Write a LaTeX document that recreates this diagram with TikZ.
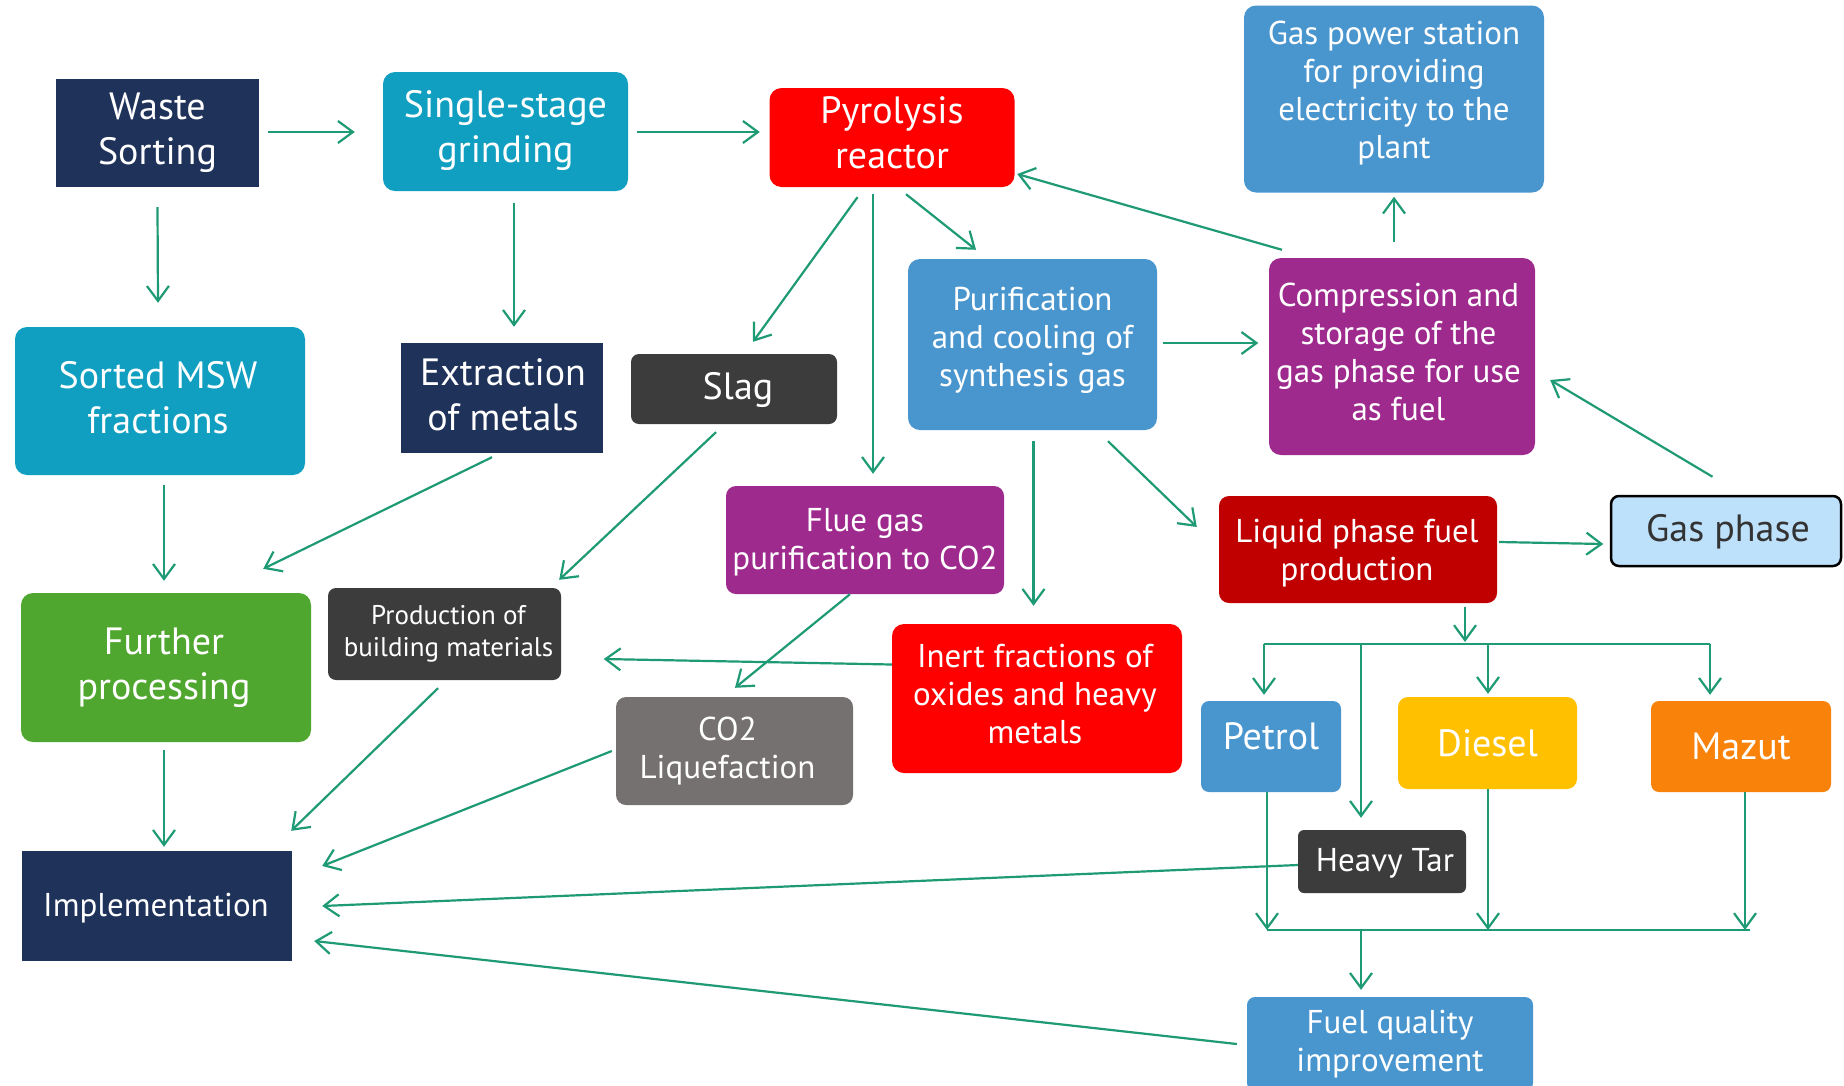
\documentclass[tikz,border=0pt]{standalone}
\usepackage{fontspec}
\setmainfont{PT Sans}
\usetikzlibrary{arrows.meta,calc}
\definecolor{cnavy}{HTML}{1F3259}
\definecolor{cteal}{HTML}{109FC0}
\definecolor{cred}{HTML}{FF0000}
\definecolor{cblue}{HTML}{4995CE}
\definecolor{cpurple}{HTML}{9E2A8E}
\definecolor{cdred}{HTML}{C00000}
\definecolor{cgreenbox}{HTML}{50A72F}
\definecolor{cdgray}{HTML}{3C3C3C}
\definecolor{cgray}{HTML}{757170}
\definecolor{cyellow}{HTML}{FFC000}
\definecolor{corange}{HTML}{F9830A}
\definecolor{clblue}{HTML}{BDE0FB}
\definecolor{cline}{HTML}{1E9A74}
\definecolor{ctext}{HTML}{333333}
\newlength{\liftamt}
\newlength{\nudgeamt}
\newcommand{\myline}[1]{\raisebox{\liftamt}[\height][\depth]{\kern\nudgeamt\relax #1\kern-\nudgeamt\relax}}
\begin{document}
\begin{tikzpicture}[x=1pt,y=-1pt,
  box/.style={rounded corners=12pt, text=white, align=center, inner sep=0pt, anchor=center},
  sqbox/.style={box, rounded corners=0pt},
  tpos/.style 2 args={execute at begin node={\setlength{\liftamt}{#1}\setlength{\nudgeamt}{#2}}},
  conn/.style={draw=cline, line width=2.2pt, -{Straight Barb[length=15pt,width=22pt,line width=2.2pt]}},
  busline/.style={draw=cline, line width=2.2pt},
  fA/.style={font=\fontsize{38}{45}\selectfont},
  fB/.style={font=\fontsize{33}{38}\selectfont},
  fC/.style={font=\fontsize{27}{32}\selectfont},
]
\useasboundingbox (0,0) rectangle (1844,1085);
\clip (0,0) rectangle (1844,1085);
\fill[white] (0,0) rectangle (1844,1085);

% nodes
\node[sqbox, fill=cnavy, minimum width=203pt, minimum height=108pt, fA] (ws) at (157.5,133) {\myline{Waste}\\\myline{Sorting}};
\node[box, fill=cteal, minimum width=245pt, minimum height=119pt, fA, tpos={1pt}{0pt}] (sg) at (505.5,131.5) {\myline{Single-stage}\\\myline{grinding}};
\node[box, fill=cred, minimum width=245pt, minimum height=99pt, fA, tpos={5pt}{0pt}] (pr) at (892,137.5) {\myline{Pyrolysis}\\\myline{reactor}};
\node[box, fill=cblue, minimum width=300pt, minimum height=187pt, fB, tpos={6pt}{0pt}] (gp) at (1394,99) {\myline{Gas power station}\\\myline{for providing}\\\myline{electricity to the}\\\myline{plant}};
\node[box, fill=cteal, minimum width=290pt, minimum height=148pt, fA, tpos={3.5pt}{-2pt}] (smsw) at (160,401) {\myline{Sorted MSW}\\\myline{fractions}};
\node[sqbox, fill=cnavy, minimum width=202pt, minimum height=110pt, fA, tpos={3.5pt}{1pt}] (ex) at (502,398) {\myline{Extraction}\\\myline{of metals}};
\node[box, fill=cdgray, rounded corners=8pt, minimum width=206pt, minimum height=70pt, fA, tpos={-1pt}{4pt}] (slag) at (734,389) {\myline{Slag}};
\node[box, fill=cblue, minimum width=249pt, minimum height=171pt, fB, tpos={4pt}{0pt}] (pc) at (1032.5,344.5) {\myline{Purification}\\\myline{and cooling of}\\\myline{synthesis gas}};
\node[box, fill=cpurple, minimum width=266pt, minimum height=197pt, fB, tpos={4.5pt}{-3.5pt}] (cs) at (1402,356.5) {\myline{Compression and}\\\myline{storage of the}\\\myline{gas phase for use}\\\myline{as fuel}};
\node[box, fill=clblue, draw=black, line width=2.5pt, rounded corners=8pt, text=ctext, minimum width=230pt, minimum height=70pt, fA, tpos={-1pt}{2pt}] (gph) at (1726,531) {\myline{Gas phase}};
\node[box, fill=cdred, rounded corners=10pt, minimum width=278pt, minimum height=107pt, fB, tpos={-3.5pt}{-1pt}] (lq) at (1358,549.5) {\myline{Liquid phase fuel}\\\myline{production}};
\node[box, fill=cpurple, rounded corners=10pt, minimum width=278pt, minimum height=108pt, fB, tpos={-2.5pt}{0pt}] (fg) at (865,540) {\myline{Flue gas}\\\myline{purification to CO2}};
\node[box, fill=cgreenbox, minimum width=290pt, minimum height=149pt, fA, tpos={0pt}{-2pt}] (fp) at (166,667.5) {\myline{Further}\\\myline{processing}};
\node[box, fill=cdgray, rounded corners=8pt, minimum width=233pt, minimum height=92pt, fC, tpos={0pt}{4pt}] (pb) at (444.5,634) {\myline{Production of}\\\myline{building materials}};
\node[box, fill=cred, minimum width=290pt, minimum height=149pt, fB, tpos={4pt}{-2pt}] (inert) at (1037,698.5) {\myline{Inert fractions of}\\\myline{oxides and heavy}\\\myline{metals}};
\node[box, fill=cgray, rounded corners=10pt, minimum width=237pt, minimum height=108pt, fB, tpos={0pt}{-7pt}] (co2) at (734.5,751) {\myline{CO2}\\\myline{Liquefaction}};
\node[box, fill=cblue, rounded corners=8pt, minimum width=140pt, minimum height=91pt, fA, tpos={10pt}{0pt}] (petrol) at (1271,746.5) {\myline{Petrol}};
\node[box, fill=cyellow, rounded corners=10pt, minimum width=179pt, minimum height=92pt, fA] (diesel) at (1487.5,743) {\myline{Diesel}};
\node[box, fill=corange, rounded corners=8pt, minimum width=180pt, minimum height=91pt, fA] (mazut) at (1741,746.5) {\myline{Mazut}};
\node[box, fill=cdgray, rounded corners=6pt, minimum width=168pt, minimum height=63pt, fB, tpos={-2pt}{3pt}] (ht) at (1382,861.5) {\myline{Heavy Tar}};
\node[sqbox, fill=cnavy, minimum width=270pt, minimum height=110pt, fB, tpos={-2pt}{-1pt}] (impl) at (157,906) {\myline{Implementation}};
\node[box, fill=cblue, rounded corners=8pt, minimum width=286pt, minimum height=94pt, fB] (fq) at (1390,1044) {\myline{Fuel quality}\\\myline{improvement}};

% bus coordinates
\coordinate (btL) at (1264,644);
\coordinate (btR) at (1710,644);
\coordinate (bj) at (1465,642);
\coordinate (bbL) at (1267,930);
\coordinate (bbR) at (1750,930);
\coordinate (bbP) at (1267,930);
\coordinate (bbD) at (1488,930);
\coordinate (bbM) at (1745,930);

% connectors
\draw[conn] ($(ws.east)+(9,-1)$) -- ($(sg.west)+(-28,0.5)$);
\draw[conn] ($(sg.east)+(9,0.5)$) -- ($(pr.west)+(-9.5,-5.5)$);
\draw[conn] ($(ws.south)+(0,20)$) -- ($(smsw.north)+(-2,-24)$);
\draw[conn] ($(sg.south)+(8.5,12)$) -- ($(ex.north)+(12,-16)$);
\draw[conn] ($(pr.south)+(-34.5,10)$) -- ($(slag.north)+(19,-12)$);
\draw[conn] ($(pr.south)+(-19,7)$) -- ($(fg.north)+(8,-12)$);
\draw[conn] ($(pr.south)+(14,7)$) -- ($(pc.north)+(-56.5,-9)$);
\draw[conn] ($(cs.north)+(-120,-8)$) -- ($(pr.east)+(2.5,36.5)$);
\draw[conn] ($(cs.north)+(-8,-16)$) -- ($(gp.south)+(0,4)$);
\draw[conn] ($(pc.east)+(5.5,-1.5)$) -- ($(cs.west)+(-10.5,-13.5)$);
\draw[conn] ($(gph.north)+(-13.5,-18)$) -- ($(cs.east)+(15,23.5)$);
\draw[conn] ($(pc.south)+(1,11)$) -- ($(inert.north)+(-3.5,-18)$);
\draw[conn] ($(pc.south)+(75.5,11)$) -- ($(lq.west)+(-22,-22.5)$);
\draw[conn] ($(lq.east)+(2,-7.5)$) -- ($(gph.west)+(-6.5,13)$);
\draw[conn] ($(smsw.south)+(4,10)$) -- ($(fp.north)+(-2,-12)$);
\draw[conn] ($(ex.south)+(-10,4)$) -- ($(fp.north east)+(-48,-24)$);
\draw[conn] ($(slag.south)+(-18,8)$) -- ($(pb.north east)+(-2,-8)$);
\draw[conn] ($(fg.south)+(-15,0)$) -- ($(co2.north)+(0.5,-9)$);
\draw[conn] ($(inert.west)+(0,-34)$) -- ($(pb.east)+(42.5,25)$);
\draw[conn] ($(fp.south)+(-2,8)$) -- ($(impl.north)+(7,-4)$);
\draw[conn] ($(pb.south)+(-6.5,8)$) -- ($(impl.north east)+(-1,-20)$);
\draw[conn] ($(co2.west)+(-4,0)$) -- ($(impl.east)+(30,-40)$);
\draw[conn] ($(ht.west)+(0,3.5)$) -- ($(impl.east)+(30,0)$);
\draw[conn] ($(fq.west)+(-10,0)$) -- ($(impl.east)+(22,35)$);

% fuel distribution
\draw[conn] ($(lq.south)+(107,4)$) -- (bj);
\draw[busline] (btL) -- (btR);
\draw[conn] (btL) -- ($(petrol.north)+(-7,-6)$);
\draw[conn] (btL -| ht.north) ++(-21,0) -- ($(ht.north)+(-21,-12)$);
\draw[conn] (btL -| diesel.north) ++(0.5,0) -- ($(diesel.north)+(0.5,-3)$);
\draw[conn] (btR) -- ($(mazut.north)+(-31,-6)$);

\draw[busline] (bbL) -- (bbR);
\draw[conn] ($(petrol.south)+(-4,0)$) -- (bbP);
\draw[conn] ($(diesel.south)+(0.5,0)$) -- (bbD);
\draw[conn] ($(mazut.south)+(4,0)$) -- (bbM);
\draw[conn] (bbL -| ht.north) ++(-21,0) -- ($(fq.north)+(-29,-7)$);
\end{tikzpicture}
\end{document}
